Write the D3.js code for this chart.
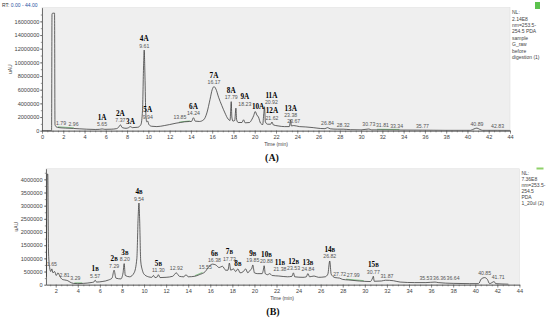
<!DOCTYPE html>
<html>
<head>
<meta charset="utf-8">
<script src="https://cdn.jsdelivr.net/npm/d3@7"></script>
<style>
  body { margin: 0; background: #fff; }
  svg { display: block; font-family: "Liberation Sans", Arial, sans-serif; }
  .tick text { font-size: 5.6px; fill: #444; }
  .domain, .tick line { stroke: #555; stroke-width: 0.6; }
</style>
</head>
<body>
<div id="chart"></div>
<script>
// ---- data (values in millions of uAU) ----
const timeA = [0, 0.9, 0.94, 1.0, 1.18, 1.22, 1.35, 1.6, 1.79, 2.2, 2.96, 3.5, 4.2, 5.0, 5.4, 5.65, 5.9, 6.5, 7.0, 7.2,
  7.37, 7.55, 7.9, 8.15, 8.3, 8.5, 9.0, 9.3, 9.45, 9.55, 9.61, 9.68, 9.76, 9.85, 9.94, 10.05, 10.3, 10.8, 11.5, 12.0,
  12.6, 13.0, 13.4, 13.85, 14.05, 14.24, 14.4, 14.8, 15.2, 15.5, 15.8, 16.0, 16.17, 16.35, 16.6, 16.9, 17.2, 17.5, 17.68, 17.74,
  17.79, 17.85, 17.95, 18.12, 18.2, 18.23, 18.3, 18.45, 18.8, 18.95, 19.1, 19.5, 19.75, 19.9, 20.05, 20.2, 20.35, 20.55, 20.75, 20.85,
  20.92, 21.0, 21.2, 21.5, 21.62, 21.75, 22.2, 22.8, 23.25, 23.33, 23.38, 23.44, 23.67, 24.2, 24.8, 25.5, 26.2, 26.6, 26.84, 27.1,
  27.8, 28.32, 29.0, 30.0, 30.73, 31.0, 31.81, 33.34, 35.77, 38.0, 40.3, 40.6, 40.89, 41.15, 41.4, 42.83, 44];
const valueA = [0.02, 0.02, 17.0, 17.2, 17.2, 0.9, 0.55, 0.45, 0.42, 0.38, 0.33, 0.28, 0.22, 0.18, 0.2, 0.26, 0.2, 0.22, 0.3, 0.5,
  0.85, 0.45, 0.35, 0.45, 0.6, 0.45, 0.5, 0.9, 3.0, 9.5, 11.8, 8.0, 2.5, 1.3, 1.4, 0.9, 0.65, 0.6, 0.75, 0.9,
  1.1, 1.2, 1.3, 1.35, 1.35, 1.9, 1.4, 1.35, 1.6, 2.6, 4.6, 6.0, 6.45, 6.1, 4.9, 3.7, 2.6, 1.7, 1.5, 3.0,
  4.25, 2.0, 1.4, 1.5, 2.9, 3.3, 1.6, 1.2, 1.2, 1.6, 1.15, 1.2, 1.7, 2.2, 2.8, 2.3, 2.0, 1.1, 0.9, 2.5,
  3.5, 1.3, 0.95, 0.95, 1.27, 0.85, 0.7, 0.6, 0.6, 1.2, 1.6, 0.7, 0.75, 0.6, 0.55, 0.45, 0.32, 0.3, 0.45, 0.28,
  0.22, 0.22, 0.15, 0.12, 0.25, 0.12, 0.12, 0.1, 0.08, 0.05, 0.05, 0.25, 0.38, 0.2, 0.05, 0.05, 0.04];

const timeB = [1.15, 1.22, 1.28, 1.35, 1.45, 1.55, 1.65, 1.75, 1.9, 2.05, 2.2, 2.4, 2.6, 2.81, 3.1, 3.29, 3.6, 4.0, 4.5, 5.2,
  5.45, 5.57, 5.7, 6.2, 6.8, 7.1, 7.29, 7.45, 7.9, 8.1, 8.2, 8.3, 8.7, 9.1, 9.35, 9.47, 9.54, 9.6, 9.7, 9.85,
  10.0, 10.4, 10.7, 10.85, 11.0, 11.2, 11.3, 11.45, 12.0, 12.6, 12.92, 13.2, 13.6, 13.8, 14.0, 14.6, 15.0, 15.55, 15.9, 16.2,
  16.5, 16.8, 17.1, 17.4, 17.6, 17.73, 17.85, 18.1, 18.3, 18.5, 18.7, 19.0, 19.2, 19.4, 19.6, 19.75, 19.85, 20.0, 20.3, 20.7,
  20.8, 20.88, 20.98, 21.2, 21.38, 21.6, 22.2, 23.0, 23.4, 23.53, 23.65, 24.4, 24.7, 24.84, 25.0, 25.4, 25.8, 26.4, 26.65, 26.82,
  26.95, 27.3, 27.72, 27.99, 28.5, 29.5, 30.5, 30.7, 30.77, 30.85, 31.5, 31.87, 32.6, 33.2, 34.5, 35.53, 36.36, 36.64, 38.0, 39.5,
  40.3, 40.55, 40.85, 41.1, 41.3, 41.6, 41.71, 41.85, 43.0];
const valueB = [0.3, 4.2, 4.2, 1.2, 0.65, 0.5, 0.6, 0.45, 0.5, 0.35, 0.45, 0.3, 0.2, 0.18, 0.15, 0.1, 0.05, 0.04, 0.05, 0.08,
  0.1, 0.17, 0.1, 0.12, 0.18, 0.25, 0.55, 0.25, 0.22, 0.45, 0.8, 0.35, 0.3, 0.45, 1.0, 2.6, 3.1, 2.5, 0.9, 0.55,
  0.4, 0.3, 0.28, 0.35, 0.27, 0.3, 0.38, 0.27, 0.28, 0.32, 0.45, 0.32, 0.3, 0.38, 0.3, 0.32, 0.38, 0.5, 0.7, 0.78,
  0.75, 0.65, 0.7, 0.55, 0.55, 0.82, 0.55, 0.6, 0.5, 0.6, 0.45, 0.5, 0.6, 0.45, 0.55, 0.6, 0.75, 0.45, 0.42, 0.42,
  0.55, 0.72, 0.42, 0.38, 0.42, 0.35, 0.33, 0.3, 0.32, 0.45, 0.3, 0.28, 0.3, 0.42, 0.3, 0.33, 0.28, 0.3, 0.4, 0.9,
  0.4, 0.27, 0.25, 0.2, 0.18, 0.14, 0.12, 0.25, 0.32, 0.13, 0.14, 0.17, 0.15, 0.1, 0.08, 0.08, 0.1, 0.08, 0.05, 0.04,
  0.04, 0.22, 0.27, 0.2, 0.04, 0.1, 0.12, 0.04, 0.02];

// named peaks
const peakNamesA = ["1A", "2A", "3A", "4A", "5A", "6A", "7A", "8A", "9A", "10A", "11A", "12A", "13A"];
const peakTimesA = [5.65, 7.37, 8.3, 9.61, 9.94, 14.24, 16.17, 17.79, 18.23, 20.05, 20.92, 21.62, 23.38];
const peakNamesB = ["1B", "2B", "3B", "4B", "5B", "6B", "7B", "8B", "9B", "10B", "11B", "12B", "13B", "14B", "15B"];
const peakTimesB = [5.57, 7.29, 8.20, 9.54, 11.30, 16.38, 17.73, 18.5, 19.85, 20.88, 21.38, 23.53, 24.84, 26.82, 30.77];

// retention time annotations
const rtLabelsA = [1.79, 2.96, 5.65, 7.37, 9.61, 9.94, 13.85, 14.24, 16.17, 17.79, 18.23, 20.92, 21.62, 23.38, 23.67,
  26.84, 28.32, 30.73, 31.81, 33.34, 35.77, 40.89, 42.83];
const rtLabelsB = [1.65, 2.81, 3.29, 5.57, 7.29, 8.20, 9.54, 11.30, 12.92, 15.55, 16.38, 17.73, 19.85, 20.88, 21.38,
  23.53, 24.84, 26.82, 27.72, 27.99, 30.77, 31.87, 35.53, 36.36, 36.64, 40.85, 41.71];

// green integration baselines
const baselinesA = [[1.5, 3.0], [12.9, 13.9], [31.5, 33.6]];
const baselinesB = [[3.7, 4.4], [14.6, 15.3], [28.3, 29.9]];

// axis ticks
const xTicksA = d3.range(0, 45, 2);
const xTicksB = d3.range(2, 45, 2);
const yTicksA = [0, 2000000, 4000000, 6000000, 8000000, 10000000, 12000000, 14000000, 16000000];
const yTicksB = [0, 500000, 1000000, 1500000, 2000000, 2500000, 3000000, 3500000, 4000000];

const infoA = ["NL:", "2.14E8", "nm=253.5-", "254.5  PDA", "sample", "G_raw", "before", "digestion (1)"];
const infoB = ["NL:", "7.36E8", "nm=253.5-", "254.5", "PDA", "1_20ul (2)"];

// ---- drawing ----
const svg = d3.select("#chart").append("svg").attr("width", 550).attr("height", 321);

function drawPanel(p) {
  const x = d3.scaleLinear().domain(p.xDomain).range([p.left, p.right]);
  const y = d3.scaleLinear().domain([0, p.yMax]).range([p.bottom, p.top]);
  const pts = d3.zip(p.times, p.values).map(([t, v]) => ({ t: t, v: v * 1e6 }));
  const g = svg.append("g");

  g.append("rect")
    .attr("x", p.left).attr("y", p.top)
    .attr("width", p.right - p.left).attr("height", p.bottom - p.top)
    .attr("fill", "#efefef").attr("stroke", "#dadada").attr("stroke-width", 0.5);

  const clipId = "clip" + p.id;
  g.append("clipPath").attr("id", clipId).append("rect")
    .attr("x", p.left).attr("y", p.top)
    .attr("width", p.right - p.left).attr("height", p.bottom - p.top);

  // value on the trace at time t (linear between read points)
  const bis = d3.bisector(d => d.t).left;
  function valueAt(t) {
    const i = Math.max(1, Math.min(pts.length - 1, bis(pts, t)));
    const a = pts[i - 1], b = pts[i];
    return a.v + (b.v - a.v) * (t - a.t) / (b.t - a.t);
  }
  function peakAt(t) {
    const near = pts.filter(d => Math.abs(d.t - t) <= 0.15).map(d => d.v);
    return Math.max(valueAt(t), ...near);
  }

  // axes: minor then major ticks
  g.append("g").attr("transform", `translate(0,${p.bottom})`)
    .call(d3.axisBottom(x).tickValues(d3.range(Math.ceil(p.xDomain[0] * 2) / 2, 44.01, 0.5))
      .tickSize(1.6).tickSizeOuter(0).tickFormat(""));
  g.append("g").attr("transform", `translate(0,${p.bottom})`)
    .call(d3.axisBottom(x).tickValues(p.xTicks).tickSize(3).tickSizeOuter(0)
      .tickPadding(1.4).tickFormat(d3.format("d")));

  const yStep = p.yTicks[1];
  g.append("g").attr("transform", `translate(${p.left},0)`)
    .call(d3.axisLeft(y).tickValues(d3.range(0, p.yMax, yStep / 2))
      .tickSize(1.2).tickSizeOuter(0).tickFormat(""));
  g.append("g").attr("transform", `translate(${p.left},0)`)
    .call(d3.axisLeft(y).tickValues(p.yTicks).tickSize(2).tickSizeOuter(0)
      .tickPadding(p.yPad).tickFormat(d => d));

  // green baselines
  g.selectAll(".base").data(p.baselines).join("line")
    .attr("x1", d => x(d[0])).attr("y1", d => y(valueAt(d[0])) - 0.6)
    .attr("x2", d => x(d[1])).attr("y2", d => y(valueAt(d[1])) - 0.6)
    .attr("stroke", "#4caf50").attr("stroke-width", 0.6);

  // trace
  g.append("path").datum(pts)
    .attr("clip-path", `url(#${clipId})`)
    .attr("fill", "none").attr("stroke", "#333").attr("stroke-width", 0.75)
    .attr("d", d3.line().x(d => x(d.t)).y(d => y(d.v)).curve(d3.curveMonotoneX));

  // peak annotations: retention time and/or peak name stacked above the peak.
  // Named peaks are placed first (sliding right when crowded); plain retention
  // times then take the nearest free spot on either side.
  const times = Array.from(new Set([...p.rtLabels, ...p.peakTimes])).sort((a, b) => a - b);
  const items = times.map(t => ({ t, hasRt: p.rtLabels.includes(t), ni: p.peakTimes.indexOf(t) }));
  const order = [...items.filter(d => d.ni >= 0), ...items.filter(d => d.ni < 0)];
  const placed = [];
  const pad = 0.3;
  order.forEach(it => {
    const t = it.t;
    const baseY = y(peakAt(t)) - 2.5;
    const lab = g.append("g");
    let w = 0, top = 0;
    if (it.hasRt) {
      const tx = lab.append("text").attr("text-anchor", "middle")
        .attr("font-size", 5.2).attr("fill", "#555").text(t.toFixed(2));
      w = Math.max(w, tx.node().getComputedTextLength());
      top = -4.0;
    }
    if (it.ni >= 0) {
      const ny = it.hasRt ? -6.5 : 0;
      const nm = lab.append("text").attr("y", ny).attr("text-anchor", "middle")
        .attr("font-family", "'Liberation Serif', 'Times New Roman', serif")
        .attr("font-weight", "bold").attr("font-size", 7.2).attr("fill", "#000");
      const name = p.peakNames[it.ni];
      nm.append("tspan").text(name.slice(0, -1));
      nm.append("tspan").attr("font-size", p.suffixSize).text(name.slice(-1));
      w = Math.max(w, nm.node().getComputedTextLength());
      top = ny - 5.0;
    }
    const boxAt = cx => ({ l: cx - w / 2 - pad, r: cx + w / 2 + pad, t: baseY + top - pad, b: baseY + pad });
    const hitAt = cx => {
      const b = boxAt(cx);
      return placed.find(o => b.l < o.r && b.r > o.l && b.t < o.b && b.b > o.t);
    };
    const slide = dir => {
      let cx = x(t);
      for (let k = 0; k < 30; k++) {
        const h = hitAt(cx);
        if (!h) break;
        cx = dir > 0 ? h.r + w / 2 + pad : h.l - w / 2 - pad;
      }
      return cx;
    };
    const right = slide(1);
    let cx = right;
    if (it.ni < 0) {
      const left = slide(-1);
      if (Math.abs(left - x(t)) < Math.abs(right - x(t))) cx = left;
    }
    placed.push(boxAt(cx));
    lab.attr("transform", `translate(${cx},${baseY})`);
  });

  // axis titles
  g.append("text").attr("transform", `translate(${p.uauX},${(p.top + p.bottom) / 2}) rotate(-90)`)
    .attr("text-anchor", "middle").attr("font-size", 5).attr("fill", "#444").text("uAU");
  g.append("text").attr("x", p.timeX).attr("y", p.bottom + 15.5)
    .attr("text-anchor", "middle").attr("font-size", 5).attr("fill", "#444").text("Time (min)");
  g.append("text").attr("x", p.tagX).attr("y", p.bottom + 30)
    .attr("text-anchor", "middle")
    .attr("font-family", "'Liberation Serif', 'Times New Roman', serif")
    .attr("font-weight", "bold").attr("font-size", 10).attr("fill", "#111").text(p.tag);

  // side info text
  g.selectAll(".info").data(p.info).join("text")
    .attr("x", p.right + 2).attr("y", (d, i) => p.top + 6.5 + i * p.infoStep)
    .attr("font-size", 5).attr("fill", "#444").text(d => d);
}

svg.append("text").attr("x", 2).attr("y", 6.5).attr("font-size", 5).attr("fill", "#333")
  .text("RT: ").append("tspan").attr("fill", "#2a4fa0").text("0.00 - 44.00");

drawPanel({
  id: "A", xDomain: [0, 44], yMax: 18e6,
  left: 42, right: 510, top: 7.7, bottom: 130.7,
  times: timeA, values: valueA, xTicks: xTicksA, yTicks: yTicksA, yPad: 0.6,
  peakNames: peakNamesA, peakTimes: peakTimesA, rtLabels: rtLabelsA, baselines: baselinesA,
  suffixSize: 7.2, uauX: 12, timeX: 276, tag: "(A)", tagX: 272, info: infoA, infoStep: 6.4
});
drawPanel({
  id: "B", xDomain: [1.12, 44], yMax: 4.4e6,
  left: 46, right: 519.4, top: 168.8, bottom: 284.7,
  times: timeB, values: valueB, xTicks: xTicksB, yTicks: yTicksB, yPad: 1.5,
  peakNames: peakNamesB, peakTimes: peakTimesB, rtLabels: rtLabelsB, baselines: baselinesB,
  suffixSize: 5.2, uauX: 18, timeX: 282, tag: "(B)", tagX: 273, info: infoB, infoStep: 6
});

// small status icons at the right
svg.append("rect").attr("x", 535).attr("y", 2).attr("width", 5).attr("height", 7).attr("fill", "#5cc24e");
svg.append("rect").attr("x", 536.5).attr("y", 167.5).attr("width", 7).attr("height", 2).attr("fill", "#8fd16a");
</script>
</body>
</html>
